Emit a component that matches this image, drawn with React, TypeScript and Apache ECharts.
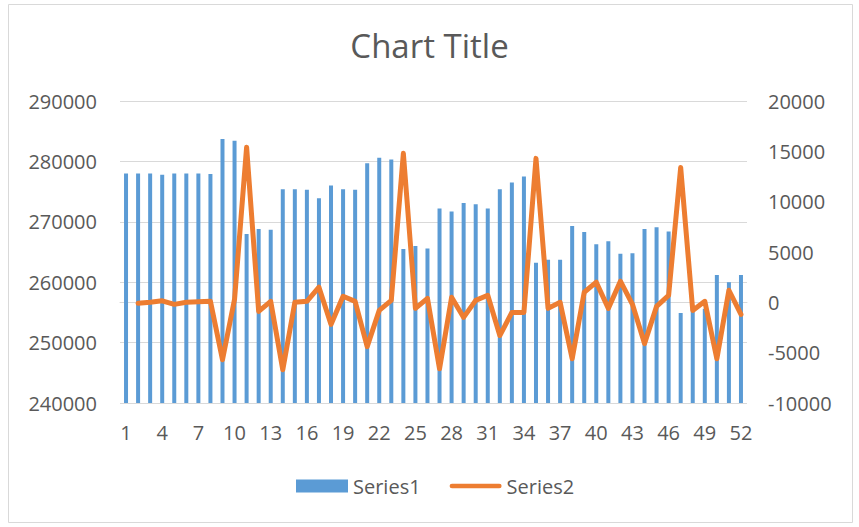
import React, { useEffect, useRef } from "react";
import * as echarts from "echarts";

const categories = [
  "1","2","3","4","5","6","7","8","9","10","11","12","13","14","15","16","17","18","19","20",
  "21","22","23","24","25","26","27","28","29","30","31","32","33","34","35","36","37","38","39","40",
  "41","42","43","44","45","46","47","48","49","50","51","52",
];

const series1 = [
  278000, 278000, 278000, 277800, 278000, 278000, 278000, 277900, 283700, 283400,
  268000, 268800, 268700, 275400, 275400, 275300, 273900, 276000, 275400, 275300,
  279700, 280600, 280300, 265500, 266000, 265600, 272200, 271700, 273100, 272900,
  272200, 275400, 276500, 277500, 263200, 263700, 263700, 269300, 268300, 266300,
  266800, 264700, 264800, 268800, 269100, 268400, 254900, 255700, 255600, 261200,
  260000, 261200,
];

const series2 = [
  null, -100, 0, 150, -200, 0, 50, 100, -5700, 300,
  15400, -900, 100, -6700, 0, 100, 1500, -2200, 600, 100,
  -4400, -800, 200, 14800, -600, 400, -6600, 500, -1500, 200,
  700, -3300, -1000, -1000, 14300, -600, 0, -5600, 1000, 2000,
  -600, 2100, -200, -4100, -400, 700, 13400, -800, 100, -5600,
  1200, -1200,
];

const leftTicks = { min: 240000, max: 290000, interval: 10000 };
const rightTicks = { min: -10000, max: 20000, interval: 5000 };

const FONT = "'Open Sans', 'DejaVu Sans', sans-serif";
const TEXT = "#595959";
const GRID = "#d9d9d9";
const LINE_ICON =
  "path://M2.5,0 L52.5,0 A2.5,2.5 0 0 1 52.5,5 L2.5,5 A2.5,2.5 0 0 1 2.5,0 Z";

const plain = (v: number) => String(v);

export default function App() {
  const ref = useRef<HTMLDivElement>(null);

  useEffect(() => {
    if (!ref.current) return;
    const chart = echarts.init(ref.current, undefined, { renderer: "svg" });
    chart.setOption({
      animation: false,
      backgroundColor: "#ffffff",
      textStyle: { fontFamily: FONT },
      title: {
        text: "Chart Title",
        left: "center",
        top: 24,
        textStyle: { fontFamily: FONT, fontSize: 33, fontWeight: "normal", color: TEXT },
      },
      graphic: [
        {
          type: "rect",
          shape: { x: 8.5, y: 4.5, width: 844, height: 518 },
          style: { fill: "none", stroke: GRID, lineWidth: 1 },
          silent: true,
        },
      ],
      legend: {
        bottom: 26,
        left: 291,
        padding: 5,
        itemGap: 29,
        itemWidth: 52,
        itemHeight: 13,
        textStyle: { fontFamily: FONT, fontSize: 20, color: TEXT },
        data: [
          { name: "Series1", icon: "rect" },
          { name: "Series2", icon: LINE_ICON, itemStyle: { color: "#ed7d31" } },
        ],
      },
      grid: { left: 120, right: 112, top: 101, bottom: 124, containLabel: false },
      xAxis: {
        type: "category",
        data: categories,
        boundaryGap: true,
        axisLine: { lineStyle: { color: GRID, width: 1 } },
        axisTick: { show: false },
        axisLabel: {
          interval: 2,
          color: TEXT,
          fontFamily: FONT,
          fontSize: 20,
          margin: 19,
        },
      },
      yAxis: [
        {
          type: "value",
          min: leftTicks.min,
          max: leftTicks.max,
          interval: leftTicks.interval,
          axisLine: { show: false },
          axisTick: { show: false },
          splitLine: { lineStyle: { color: GRID, width: 1 } },
          axisLabel: { color: TEXT, fontFamily: FONT, fontSize: 20, margin: 23, formatter: plain },
        },
        {
          type: "value",
          min: rightTicks.min,
          max: rightTicks.max,
          interval: rightTicks.interval,
          axisLine: { show: false },
          axisTick: { show: false },
          splitLine: { show: false },
          axisLabel: {
            color: TEXT,
            fontFamily: FONT,
            fontSize: 20,
            margin: 21,
            align: "left",
            formatter: plain,
          },
        },
      ],
      series: [
        {
          name: "Series1",
          type: "bar",
          data: series1,
          yAxisIndex: 0,
          barWidth: 4,
          itemStyle: { color: "#5b9bd5" },
        },
        {
          name: "Series2",
          type: "line",
          data: series2,
          yAxisIndex: 1,
          symbol: "none",
          showSymbol: false,
          connectNulls: false,
          lineStyle: { color: "#ed7d31", width: 5, cap: "round", join: "round" },
          itemStyle: { color: "#ed7d31" },
        },
      ],
    });
    return () => chart.dispose();
  }, []);

  return (
    <div
      ref={ref}
      style={{ position: "absolute", left: 0, top: 0, width: 859, height: 527 }}
    />
  );
}
